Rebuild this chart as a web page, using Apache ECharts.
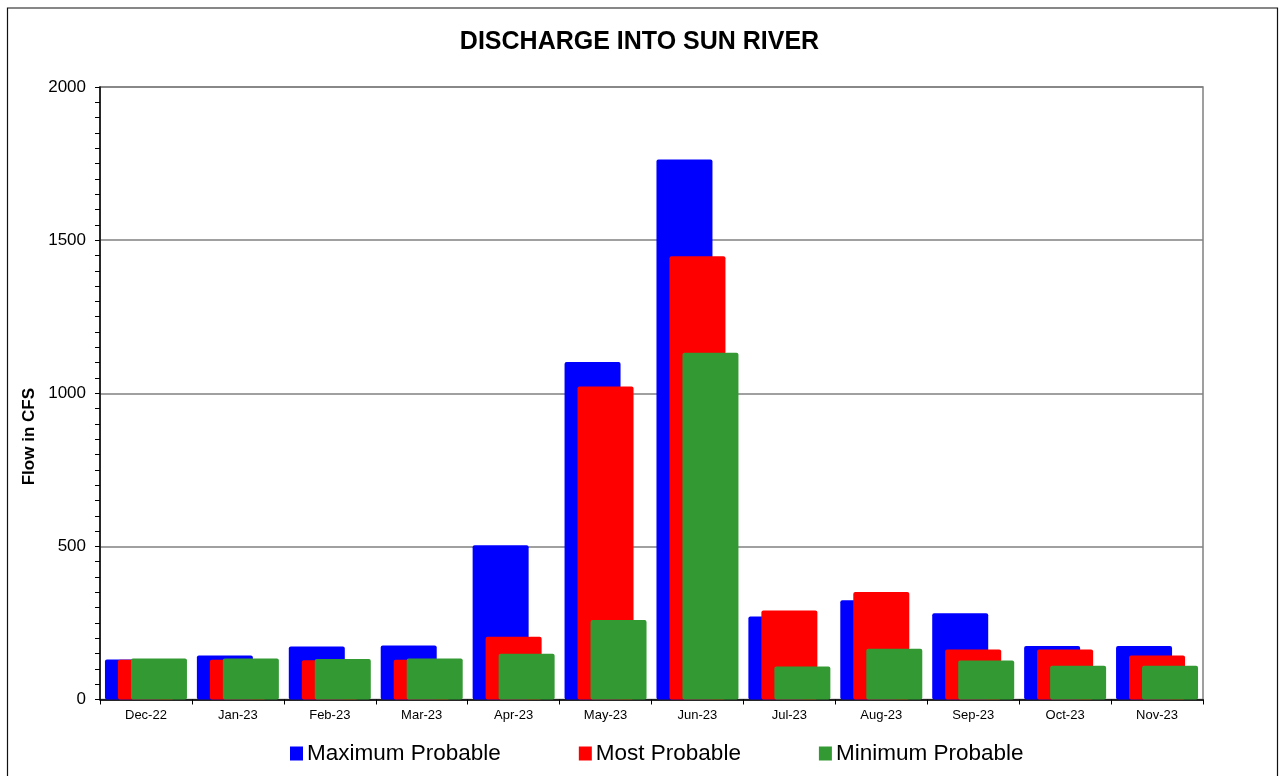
<!DOCTYPE html>
<html>
<head>
<meta charset="utf-8">
<script src="https://cdn.jsdelivr.net/npm/echarts@6/dist/echarts.min.js"></script>
<style>
html,body{margin:0;padding:0;background:#fff;}
#chart{width:1279px;height:776px;}
</style>
</head>
<body>
<div id="chart"></div>
<script>
const categories = ['Dec-22','Jan-23','Feb-23','Mar-23','Apr-23','May-23','Jun-23','Jul-23','Aug-23','Sep-23','Oct-23','Nov-23'];
const maximumProbable = [131, 144, 173, 176, 504, 1102, 1763, 271, 324, 282, 175, 175];
const mostProbable    = [130, 130, 128, 130, 205, 1022, 1447, 291, 351, 163, 163, 144];
const minimumProbable = [134, 134, 132, 134, 149, 260, 1132, 108, 166, 127, 110, 110];
const yTicks = [0, 500, 1000, 1500, 2000];

const chart = echarts.init(document.getElementById('chart'), null, {renderer: 'canvas'});
const font = 'Liberation Sans, Arial, sans-serif';
const barW = 56;
const gap = '-76.8%';
const mk = (name, data, color) => ({
  name, type: 'bar', data, barWidth: barW, barGap: gap,
  itemStyle: {color, borderRadius: 2},
  emphasis: {disabled: true}
});
chart.setOption({
  animation: false,
  backgroundColor: '#fff',
  title: {
    text: 'DISCHARGE INTO SUN RIVER',
    left: 'center', top: 25,
    textStyle: {fontFamily: font, fontSize: 25, fontWeight: 'bold', color: '#000'}
  },
  legend: {
    left: 290, top: 742, padding: 0,
    itemWidth: 13, itemHeight: 14, itemGap: 78,
    icon: 'rect',
    textStyle: {fontFamily: font, fontSize: 22.5, color: '#000', padding: [0,0,0,-1]},
    data: ['Maximum Probable','Most Probable','Minimum Probable']
  },
  grid: {
    left: 100, right: 76, top: 87, bottom: 76.5,
    show: true, borderColor: '#808080', borderWidth: 1.5
  },
  xAxis: {
    type: 'category', data: categories,
    axisLine: {lineStyle: {color: '#000', width: 1.5}},
    axisTick: {show: true, length: 5, lineStyle: {color: '#000'}},
    axisLabel: {fontFamily: font, fontSize: 13, color: '#000', margin: 9}
  },
  yAxis: [{
    type: 'value', min: yTicks[0], max: yTicks[yTicks.length-1], interval: 500,
    axisLine: {show: true, lineStyle: {color: '#000', width: 1.5}},
    axisTick: {show: true, length: 5, lineStyle: {color: '#000'}},
    minorTick: {show: true, splitNumber: 10, length: 4, lineStyle: {color: '#000'}},
    axisLabel: {fontFamily: font, fontSize: 17, color: '#000', margin: 14,
                formatter: v => String(v)},
    splitLine: {show: true, lineStyle: {color: '#808080', width: 1.5}}
  },{
    type: 'value', min: yTicks[0], max: yTicks[yTicks.length-1], interval: 500,
    position: 'left',
    axisLine: {show: false},
    axisTick: {show: false},
    minorTick: {show: true, splitNumber: 10, length: 5, lineStyle: {color: '#000'}},
    axisLabel: {show: false, inside: true},
    splitLine: {show: false}
  }],
  graphic: [
    {type: 'rect', silent: true, z: -1,
     shape: {x: 7.5, y: 8, width: 1270, height: 820},
     style: {fill: 'none', stroke: '#111', lineWidth: 1.2}},
    {type: 'text', left: 21, top: 388, silent: true,
     rotation: Math.PI/2,
     style: {text: 'Flow in CFS', fontFamily: font, fontSize: 17, fontWeight: 'bold', fill: '#000'}}
  ],
  series: [
    mk('Maximum Probable', maximumProbable, '#0000FF'),
    mk('Most Probable', mostProbable, '#FF0000'),
    mk('Minimum Probable', minimumProbable, '#339933')
  ]
});
</script>
</body>
</html>
